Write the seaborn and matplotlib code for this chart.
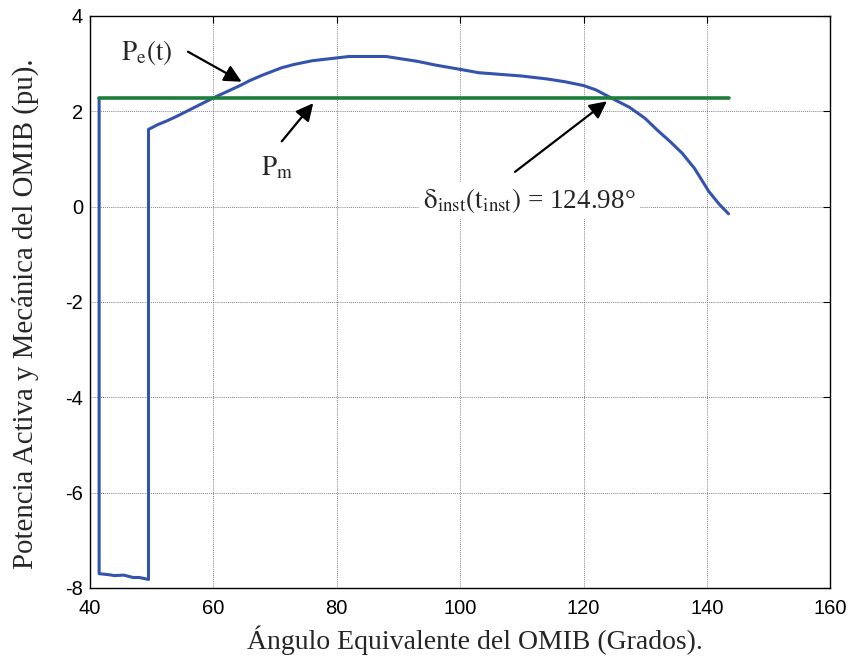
import matplotlib
matplotlib.use("Agg")
import matplotlib.pyplot as plt
import seaborn as sns
import pandas as pd

# ---- data ----
pe_x = [41.5, 41.5, 43, 44, 45.5, 47, 48, 49.5, 49.5, 51, 52.5, 54, 56, 58, 60, 62,
        64.5, 66, 68, 71, 73, 76, 78, 80, 82, 85, 88, 90, 93, 96, 100, 103, 106, 110,
        114, 117, 120, 122, 124.5, 126, 127.5, 130, 132, 134, 136, 138, 140.3, 142, 143.5]
pe_y = [2.27, -7.70, -7.72, -7.74, -7.73, -7.78, -7.78, -7.82, 1.62, 1.72, 1.80, 1.89,
        2.02, 2.15, 2.28, 2.40, 2.55, 2.65, 2.76, 2.91, 2.98, 3.06, 3.09, 3.12, 3.15,
        3.15, 3.15, 3.11, 3.05, 2.97, 2.88, 2.81, 2.78, 2.74, 2.68, 2.62, 2.54, 2.45,
        2.28, 2.18, 2.08, 1.85, 1.60, 1.37, 1.12, 0.80, 0.32, 0.05, -0.15]
pm_x = [41.5, 143.5]
pm_y = [2.27, 2.27]

x_ticks = [40, 60, 80, 100, 120, 140, 160]
y_ticks = [-8, -6, -4, -2, 0, 2, 4]

xlabel = "Ángulo Equivalente del OMIB (Grados)."
ylabel = "Potencia Activa y Mecánica del OMIB (pu)."

sns.set_style("white")
plt.rcParams['mathtext.fontset'] = 'stix'
plt.rcParams['axes.unicode_minus'] = False

fig = plt.figure(figsize=(8.56, 6.65), dpi=100)
ax = fig.add_axes([0.105, 0.1158, 0.865, 0.8602])

df_pe = pd.DataFrame({"x": pe_x, "y": pe_y})
df_pm = pd.DataFrame({"x": pm_x, "y": pm_y})
sns.lineplot(data=df_pe, x="x", y="y", sort=False, estimator=None, ax=ax,
             color="#3353AD", lw=2.2)
sns.lineplot(data=df_pm, x="x", y="y", sort=False, estimator=None, ax=ax,
             color="#1E7D3C", lw=2.6)

ax.set_xlim(40, 160)
ax.set_ylim(-8, 4)
ax.set_xticks(x_ticks)
ax.set_yticks(y_ticks)
ax.grid(True, color="#555555", linestyle=(0, (1, 1.5)), linewidth=0.6)
ax.tick_params(direction="in", length=5, width=0.8, top=True, right=True,
               labelsize=14.5, colors="black")
ax.tick_params(axis="x", pad=8)
ax.tick_params(axis="y", pad=5)
for lab in ax.get_xticklabels() + ax.get_yticklabels():
    lab.set_fontfamily("Liberation Sans")
for s in ax.spines.values():
    s.set_color("black")
    s.set_linewidth(1.0)

ax.set_xlabel(xlabel, fontfamily="Liberation Serif", fontsize=20)
ax.set_ylabel(ylabel, fontfamily="Liberation Serif", fontsize=20.8)
ax.xaxis.set_label_coords(0.52, -0.066)
ax.yaxis.set_label_coords(-0.069, 0.48)

arrow = dict(arrowstyle="-|>", color="black", lw=1.6, mutation_scale=26,
             shrinkA=0, shrinkB=0)
ax.text(49.2, 3.23, r"$\mathrm{P_e(t)}$", fontsize=19.5, ha="center", va="center")
ax.annotate("", xy=(64.6, 2.62), xytext=(55.9, 3.25), arrowprops=arrow)
ax.text(70.3, 0.82, r"$\mathrm{P_m}$", fontsize=19.5, ha="center", va="center")
ax.annotate("", xy=(76.2, 2.17), xytext=(71.1, 1.37), arrowprops=arrow)
ax.text(111.2, 0.12, r"$\mathrm{\delta_{inst}(t_{inst})}$ = 124.98°",
        fontfamily="Liberation Serif", fontsize=19.5,
        ha="center", va="center",
        bbox=dict(facecolor="white", edgecolor="none", pad=3))
ax.annotate("", xy=(123.8, 2.21), xytext=(108.9, 0.73), arrowprops=arrow)

fig.savefig("out.png", dpi=100)
